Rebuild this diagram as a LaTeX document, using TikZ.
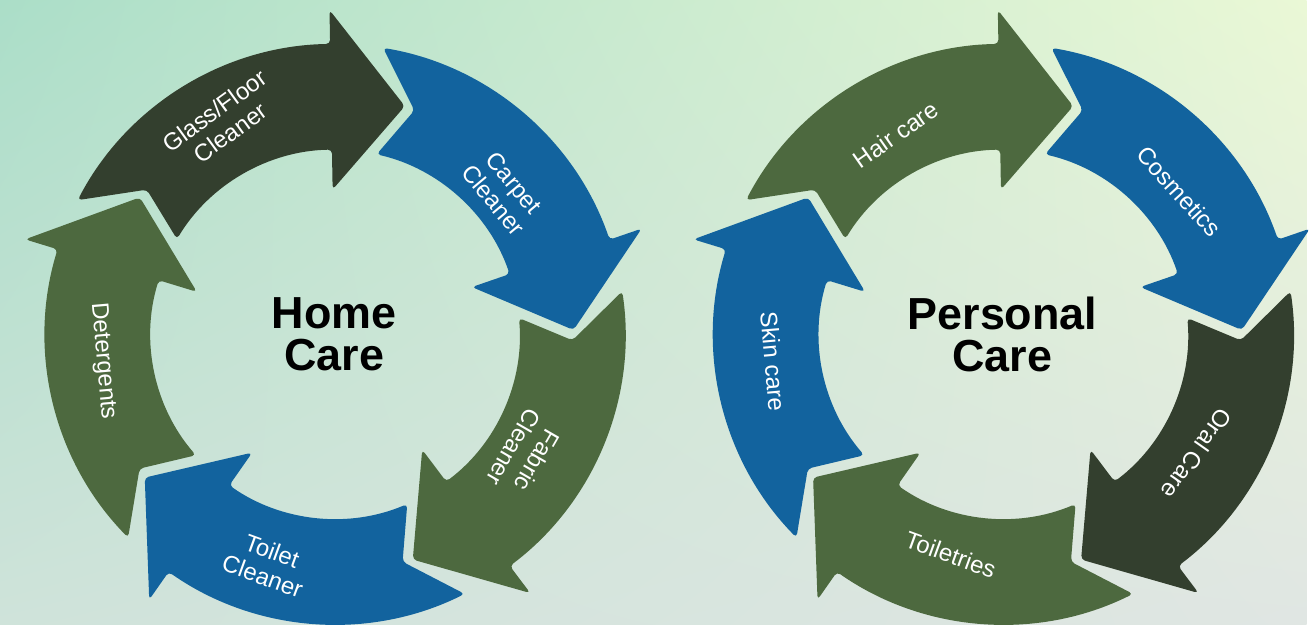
\documentclass[tikz,border=0pt]{standalone}
\usepackage{fontspec}
\setmainfont{Liberation Sans}
\usepackage{xcolor}
\usetikzlibrary{shadings}

\definecolor{bgtl}{HTML}{ABDEC8}
\definecolor{bgtr}{HTML}{EAF8D6}
\definecolor{bgbl}{HTML}{CFE3DA}
\definecolor{bgbr}{HTML}{E0E6E3}
\definecolor{dkgreen}{HTML}{333F2E}
\definecolor{olive}{HTML}{4D693F}
\definecolor{ablue}{HTML}{12639E}

\begin{document}
\begin{tikzpicture}[x=1pt,y=1pt,
    lbl/.style={text=white,align=center,font=\fontsize{24}{27}\selectfont},
    ttl/.style={align=center,font=\fontsize{45}{42}\selectfont\bfseries}]
    % background
    \shade[upper left=bgtl,upper right=bgtr,lower left=bgbl,lower right=bgbr] (0,0) rectangle (1310,626);
    % arrows
    \foreach \cx/\cols in {336/{dkgreen,ablue,olive,ablue,olive},1006/{olive,ablue,dkgreen,olive,ablue}} {
        \foreach \col [count=\k] in \cols {
            \pgfmathsetmacro\t{145-72*\k}
            \fill[\col,rounded corners=4pt,shift={(\cx,291)}]
                (\t+79.5:291) arc[start angle=\t+79.5,end angle=\t+18,radius=291]
                -- (\t+18:325) -- (\t:239) -- (\t+18:145) -- (\t+18:185)
                arc[start angle=\t+18,end angle=\t+76,radius=185]
                -- (\t+69.5:238) -- cycle;
        }
    }
    % labels
    \node[lbl,rotate=36] (glass) at (223,504) {Glass/Floor\\Cleaner};
    \node[lbl,rotate=-50] (carpet) at (505,434) {Carpet\\Cleaner};
    \node[lbl,rotate=-120] (fabric) at (527,171) {Fabric\\Cleaner};
    \node[lbl,rotate=-20] (toilet) at (268,61) {Toilet\\Cleaner};
    \node[lbl,rotate=-85] (deterg) at (103,264) {Detergents};
    \node[lbl,rotate=35] (hair) at (898,491) {Hair care};
    \node[lbl,rotate=-48] (cosmetics) at (1182,434) {Cosmetics};
    \node[lbl,rotate=-125] (oral) at (1200,171) {Oral Care};
    \node[lbl,rotate=-20] (toiletries) at (953,70) {Toiletries};
    \node[lbl,rotate=-85] (skin) at (775,264) {Skin care};
    % titles
    \node[ttl] (home) at (335,291) {Home\\Care};
    \node[ttl] (personal) at (1005,291) {Personal\\Care};
\end{tikzpicture}
\end{document}
